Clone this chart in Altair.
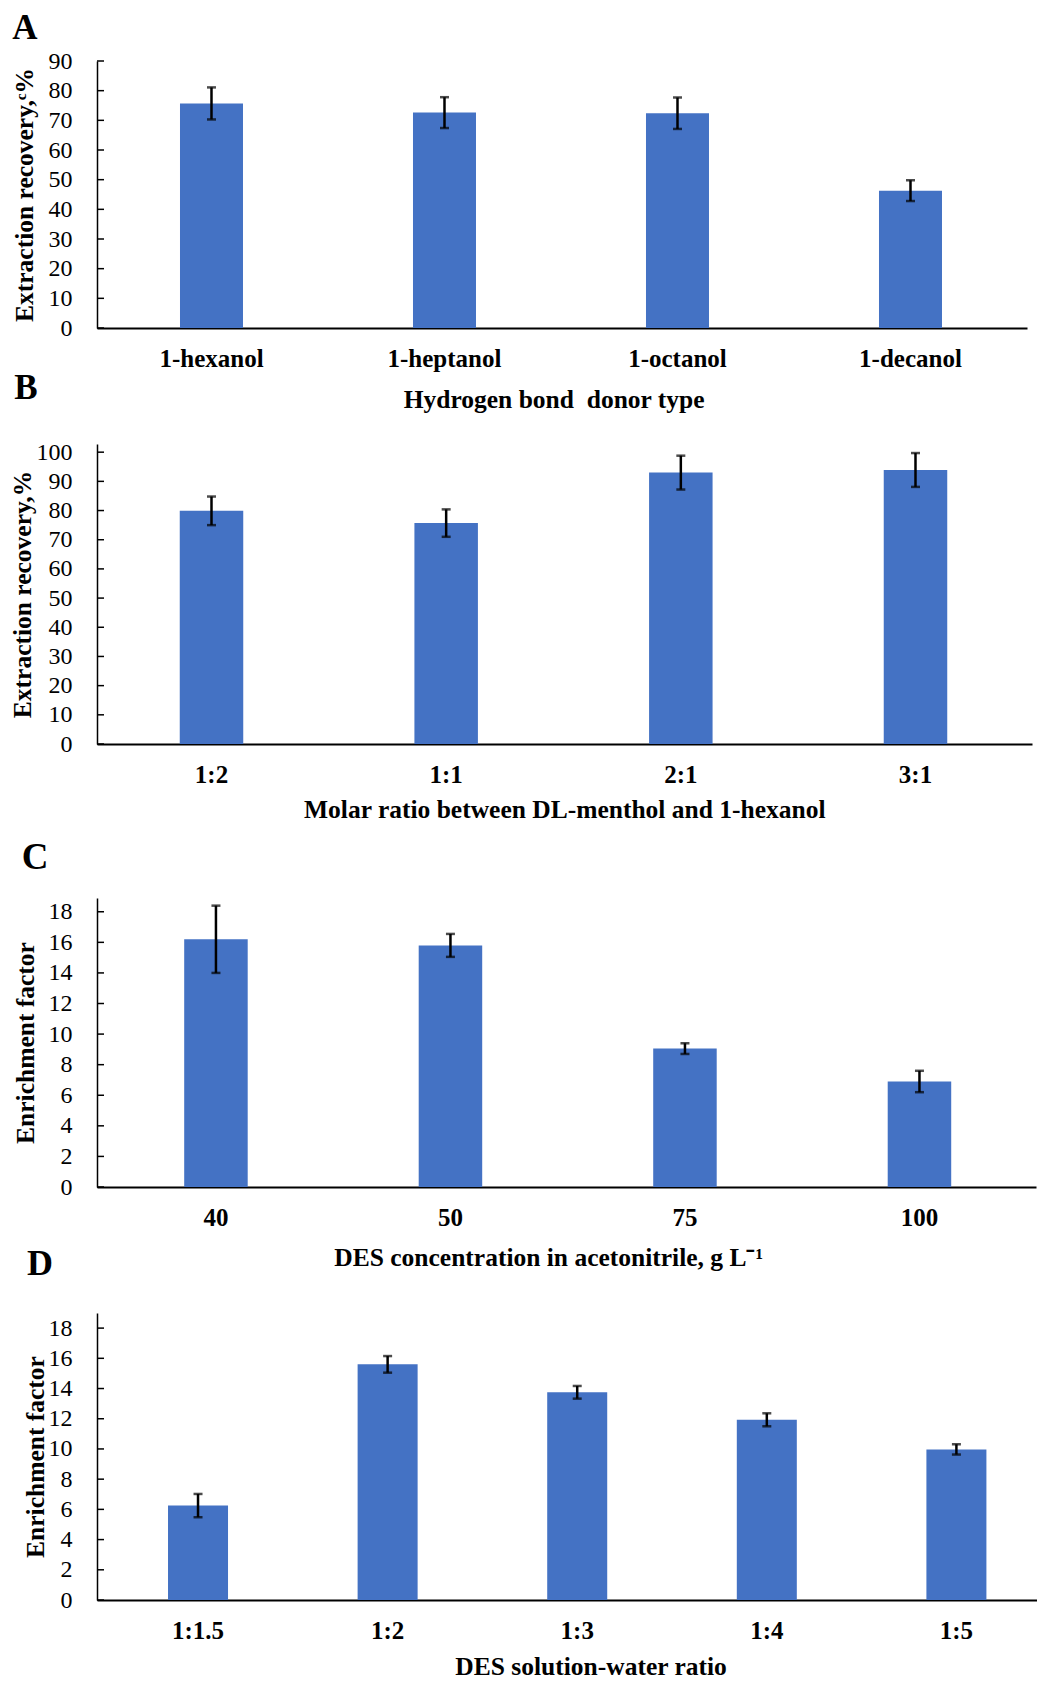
import altair as alt
import pandas as pd

FONT = "Liberation Serif"
BLUE = "#4472C4"

# ---------------- data ----------------
a_cats = ["1-hexanol", "1-heptanol", "1-octanol", "1-decanol"]
a_vals = [75.7, 72.6, 72.4, 46.3]
a_errs = [5.4, 5.2, 5.3, 3.5]
a_ticks = [0, 10, 20, 30, 40, 50, 60, 70, 80, 90]

b_cats = ["1:2", "1:1", "2:1", "3:1"]
b_vals = [79.9, 75.7, 93.0, 93.9]
b_errs = [4.9, 4.7, 5.8, 5.8]
b_ticks = [0, 10, 20, 30, 40, 50, 60, 70, 80, 90, 100]

c_cats = ["40", "50", "75", "100"]
c_vals = [16.2, 15.8, 9.05, 6.9]
c_errs = [2.2, 0.75, 0.35, 0.7]
c_ticks = [0, 2, 4, 6, 8, 10, 12, 14, 16, 18]

d_cats = ["1:1.5", "1:2", "1:3", "1:4", "1:5"]
d_vals = [6.25, 15.6, 13.75, 11.93, 9.97]
d_errs = [0.77, 0.55, 0.42, 0.43, 0.34]
d_ticks = [0, 2, 4, 6, 8, 10, 12, 14, 16, 18]

L = 97  # common plot left (absolute px)
SPACING = 116


def panel(cats, vals, errs, ticks, ymax, width, height, extra, xtitle, ytitle,
          letter, letter_xy, letter_size, band, title_abs_x, xtitle_abs_x, xtitle_y):
    df = pd.DataFrame({"cat": cats, "val": vals, "err": errs})
    df["lo"] = df["val"] - df["err"]
    df["hi"] = df["val"] + df["err"]
    pi, po, al = band
    xscale = alt.Scale(domain=cats, paddingInner=pi, paddingOuter=po, align=al)
    yscale = alt.Scale(domain=[0, ymax], nice=False, zero=True, range=[height, 0])

    x_axis = alt.Axis(
        title=xtitle, labelAngle=0, ticks=False, tickSize=0,
        labelFont=FONT, labelFontSize=25, labelFontWeight="bold",
        labelColor="black", labelPadding=38, labelBaseline="alphabetic",
        domainColor="black", domainWidth=2, offset=-extra,
        titleFont=FONT, titleFontSize=25.5, titleFontWeight="bold",
        titleColor="black", titleX=xtitle_abs_x - L, titleY=xtitle_y,
        titleBaseline="alphabetic", titleAlign="center",
    )
    y_axis = alt.Axis(
        title=ytitle, values=ticks, grid=False, ticks=False, tickSize=0,
        labelFont=FONT, labelFontSize=24, labelColor="black",
        labelPadding=25, domainColor="black", domainWidth=1.5,
        titleFont=FONT, titleFontSize=25.5, titleFontWeight="bold",
        titleColor="black", titleX=title_abs_x - L, titleY=height / 2,
        titleBaseline="middle",
    )

    x_enc = alt.X("cat:N", scale=xscale, sort=cats, axis=x_axis)

    def yq(field):
        return alt.Y(field, scale=yscale, axis=y_axis)

    bars = alt.Chart(df).mark_bar(color=BLUE).encode(x=x_enc, y=yq("val:Q"))
    err = alt.Chart(df).mark_rule(color="black", strokeWidth=2.5).encode(
        x=x_enc, y=yq("lo:Q"), y2="hi:Q"
    )
    cap_lo = alt.Chart(df).mark_tick(color="black", thickness=2.5, size=9).encode(
        x=x_enc, y=yq("lo:Q")
    )
    cap_hi = alt.Chart(df).mark_tick(color="black", thickness=2.5, size=9).encode(
        x=x_enc, y=yq("hi:Q")
    )
    yt = alt.Chart(pd.DataFrame({"t": ticks})).mark_rule(
        color="black", strokeWidth=1.5
    ).encode(
        y=yq("t:Q"), x=alt.value(0), x2=alt.value(7),
    )
    lab = alt.Chart(pd.DataFrame({"l": [letter]})).mark_text(
        font=FONT, fontSize=letter_size, fontWeight="bold", color="black",
        align="center", baseline="middle",
    ).encode(
        text="l:N", x=alt.value(letter_xy[0] - L), y=alt.value(letter_xy[1])
    )
    return alt.layer(bars, err, cap_lo, cap_hi, yt, lab).properties(
        width=width, height=height + extra
    )


pA = panel(a_cats, a_vals, a_errs, a_ticks, 90, 930, 267, 0,
           "Hydrogen bond\u00a0 donor type", "Extraction recovery,\u1d9c%",
           "A", (25, -33.5), 35, (0.7296, 0.3605, 0.494), 24, 553.6, 79)
pB = panel(b_cats, b_vals, b_errs, b_ticks, 102.8, 935, 300, 154 - SPACING,
           "Molar ratio between DL-menthol and 1-hexanol", "Extraction recovery,%",
           "B", (26, -56.5), 35, (0.7294, 0.3569, 0.494), 22, 564.3, 73)
pC = panel(c_cats, c_vals, c_errs, c_ticks, 18.9, 939, 289, 126 - SPACING,
           "DES concentration in acetonitrile, g L\u207b\u00b9", "Enrichment factor",
           "C", (35, -40.5), 37, (0.7292, 0.3667, 0.507), 25, 548.2, 78)
pD = panel(d_cats, d_vals, d_errs, d_ticks, 19.0, 940, 287, 0,
           "DES solution-water ratio", "Enrichment factor",
           "D", (40, -49.5), 36, (0.6835, 0.3207, 0.584), 35, 590.6, 74)

chart = alt.vconcat(pA, pB, pC, pD, spacing=SPACING, bounds="flush").properties(
    padding={"left": 2, "top": 2, "right": 0, "bottom": 0},
    background="white",
).configure_view(stroke=None)

chart.save("out.html", embed_options={"renderer": "svg", "actions": False})
